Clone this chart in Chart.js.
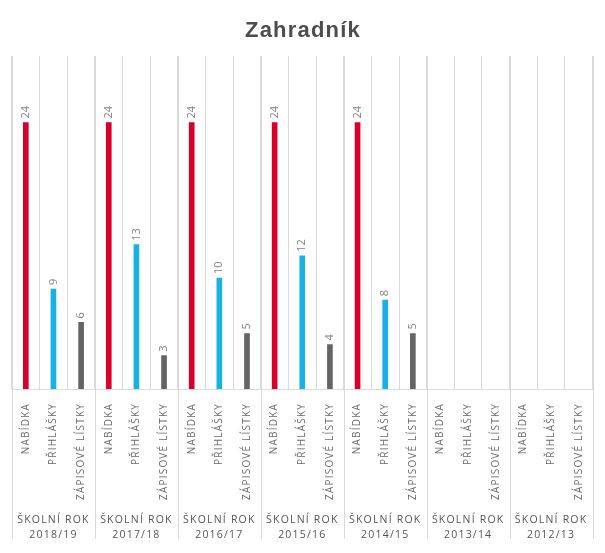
<!DOCTYPE html>
<html><head><meta charset="utf-8">
<script src="https://cdn.jsdelivr.net/npm/chart.js@4"></script>
<style>html,body{margin:0;padding:0;background:#fff}#wrap{width:605px;height:553px;position:relative}</style>
</head><body><div id="wrap"><canvas id="c"></canvas></div>
<script>
const schoolYears = ['2018/19','2017/18','2016/17','2015/16','2014/15','2013/14','2012/13'];
const subCategories = ['NABÍDKA','PŘIHLÁŠKY','ZÁPISOVÉ LÍSTKY'];
const nabidka = [24,24,24,24,24,null,null];
const prihlasky = [9,13,10,12,8,null,null];
const zapisoveListky = [6,3,5,4,5,null,null];
const seriesColors = ['#d6002a','#17b2e3','#646464'];
const groupPrefix = 'ŠKOLNÍ ROK';

const labels = [], values = [], colors = [];
schoolYears.forEach((y, i) => {
  [nabidka, prihlasky, zapisoveListky].forEach((s, j) => {
    labels.push(subCategories[j]); values.push(s[i]); colors.push(seriesColors[j]);
  });
});

const spacing = {
  id: 'spacing',
  beforeDraw(chart) { chart.ctx.letterSpacing = '1.2px'; }
};

const groupLines = {
  id: 'groupLines',
  beforeDatasetsDraw(chart) {
    const {ctx, chartArea, scales: {x, x2}} = chart;
    const half = (x.getPixelForValue(1) - x.getPixelForValue(0)) / 2;
    ctx.save();
    ctx.strokeStyle = '#d9d9d9'; ctx.lineWidth = 1;
    for (let g = 0; g <= schoolYears.length; g++) {
      const px = Math.round(x.getPixelForValue(g * 3) - half) + 0.5;
      ctx.beginPath(); ctx.moveTo(px, chartArea.top); ctx.lineTo(px, x2.top + 37); ctx.stroke();
    }
    ctx.restore();
  }
};

const valueLabels = {
  id: 'valueLabels',
  afterDatasetsDraw(chart) {
    const ctx = chart.ctx;
    const meta = chart.getDatasetMeta(0);
    ctx.save();
    ctx.letterSpacing = '0px';
    ctx.font = '11px "Open Sans"';
    ctx.fillStyle = '#808080';
    ctx.textAlign = 'left'; ctx.textBaseline = 'middle';
    meta.data.forEach((bar, i) => {
      const v = values[i];
      if (v == null) return;
      ctx.save(); ctx.translate(bar.x, bar.y - 4); ctx.rotate(-Math.PI / 2);
      ctx.fillText(String(v), 0, 0); ctx.restore();
    });
    ctx.restore();
  }
};

new Chart(document.getElementById('c'), {
  type: 'bar',
  data: { labels, datasets: [{ data: values, backgroundColor: colors, barThickness: 5, borderWidth: 0 }] },
  options: {
    responsive: true, maintainAspectRatio: false, animation: false,
    layout: { padding: { left: 12, right: 11, top: 0, bottom: 0 } },
    plugins: {
      legend: { display: false }, tooltip: { enabled: false },
      title: { display: true, text: 'Zahradník', color: '#4d4d4d',
        font: { family: '"Liberation Sans", Arial, sans-serif', size: 22, weight: 'bold', lineHeight: 1.2 },
        padding: { top: 18, bottom: 11.6 } }
    },
    scales: {
      x: { type: 'category', offset: true,
        grid: { offset: true, color: '#d9d9d9', drawTicks: false },
        border: { display: true, color: '#d9d9d9' },
        ticks: { minRotation: 90, maxRotation: 90, autoSkip: false, padding: 14, color: '#6a6a6a',
          font: { family: '"Open Sans"', size: 10 } },
        afterFit(s) { s.height = 113; } },
      x2: { type: 'category', labels: schoolYears.map(y => [groupPrefix, y]), position: 'bottom', offset: true,
        grid: { display: false }, border: { display: false },
        ticks: { padding: 3, autoSkip: false, maxRotation: 0, color: '#555',
          font: { family: '"Open Sans"', size: 10.5, lineHeight: 1.4 } },
        afterFit(s) { s.height = 51; } },
      y: { display: false, min: 0, max: 30 }
    }
  },
  plugins: [spacing, groupLines, valueLabels]
});
</script></body></html>
